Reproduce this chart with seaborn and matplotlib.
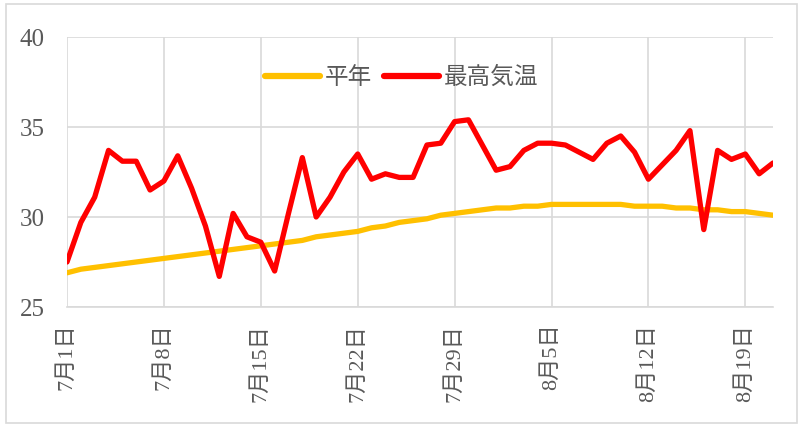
import pandas as pd
import matplotlib
matplotlib.use("Agg")
import matplotlib.pyplot as plt
import seaborn as sns
from matplotlib.patches import Rectangle

# daily values, 7/1 .. 8/21
normal_temp = [26.9, 27.1, 27.2, 27.3, 27.4, 27.5, 27.6, 27.7, 27.8, 27.9,
               28.0, 28.1, 28.2, 28.3, 28.4, 28.5, 28.6, 28.7, 28.9, 29.0,
               29.1, 29.2, 29.4, 29.5, 29.7, 29.8, 29.9, 30.1, 30.2, 30.3,
               30.4, 30.5, 30.5, 30.6, 30.6, 30.7, 30.7, 30.7, 30.7, 30.7,
               30.7, 30.6, 30.6, 30.6, 30.5, 30.5, 30.4, 30.4, 30.3, 30.3,
               30.2, 30.1]
max_temp = [27.5, 29.7, 31.1, 33.7, 33.1, 33.1, 31.5, 32.0, 33.4, 31.6,
            29.5, 26.7, 30.2, 28.9, 28.6, 27.0, 30.2, 33.3, 30.0, 31.1,
            32.5, 33.5, 32.1, 32.4, 32.2, 32.2, 34.0, 34.1, 35.3, 35.4,
            34.0, 32.6, 32.8, 33.7, 34.1, 34.1, 34.0, 33.6, 33.2, 34.1,
            34.5, 33.6, 32.1, 32.9, 33.7, 34.8, 29.3, 33.7, 33.2, 33.5,
            32.4, 33.0]
tick_days = [0, 7, 14, 21, 28, 35, 42, 49]
tick_labels = ["7月1日", "7月8日", "7月15日", "7月22日", "7月29日",
               "8月5日", "8月12日", "8月19日"]
series_names = ["平年", "最高気温"]
colors = ["#FFC000", "#FF0000"]

days = list(range(len(max_temp)))
df = pd.concat([
    pd.DataFrame({"day": days, "temp": normal_temp, "series": series_names[0]}),
    pd.DataFrame({"day": days, "temp": max_temp, "series": series_names[1]}),
])

sns.set_style("white")
fonts = ["Liberation Serif", "Noto Sans CJK JP", "DejaVu Sans"]
plt.rcParams["font.family"] = fonts
text_color = "#595959"
grid_color = "#d9d9d9"

fig = plt.figure(figsize=(8.05, 4.26), dpi=100)
ax = fig.add_axes([67 / 805, 1 - 307 / 426, (773 - 67) / 805, 270 / 426])

sns.lineplot(data=df, x="day", y="temp", hue="series", palette=colors,
             linewidth=3.8, ax=ax, legend=True)

ax.set_xlim(0, len(max_temp) - 1)
ax.set_ylim(25, 40)
ax.set_yticks([25, 30, 35, 40])
ax.set_xticks(tick_days)
ax.set_xticklabels(tick_labels, rotation=90)
ax.tick_params(axis="both", length=0, colors=text_color)
ax.tick_params(axis="y", labelsize=18, pad=16)
ax.tick_params(axis="x", labelsize=16, pad=12)
ax.set_xlabel("")
ax.set_ylabel("")
ax.grid(True, color=grid_color, linewidth=1.2)
ax.set_axisbelow(True)
for side in ["top", "right", "left"]:
    ax.spines[side].set_visible(False)
ax.spines["bottom"].set_color(grid_color)
ax.spines["bottom"].set_linewidth(1.2)

leg = ax.legend(loc="center", bbox_to_anchor=(0.474, 0.848), ncol=2,
                frameon=False, fontsize=17, handlelength=2.35,
                handletextpad=0.2, columnspacing=0.5)
for t in leg.get_texts():
    t.set_color(text_color)
for h in leg.get_lines():
    h.set_linewidth(4.5)

fig.patches.append(Rectangle((6 / 805, 3 / 426), 791 / 805, 419 / 426,
                             transform=fig.transFigure, fill=False,
                             edgecolor=grid_color, linewidth=1.2))

fig.savefig("out.png", dpi=100)
